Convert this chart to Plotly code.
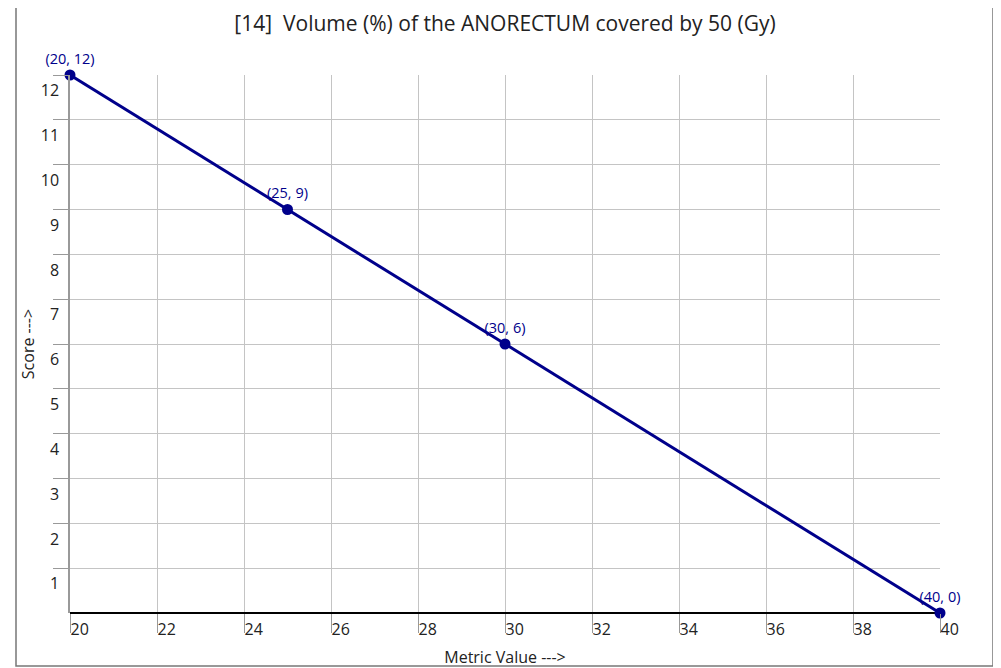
import plotly.graph_objects as go

x_vals = [20, 25, 30, 40]
y_vals = [12, 9, 6, 0]
point_labels = [f"({x}, {y})" for x, y in zip(x_vals, y_vals)]
x_ticks = [20, 22, 24, 26, 28, 30, 32, 34, 36, 38, 40]
y_ticks = [1, 2, 3, 4, 5, 6, 7, 8, 9, 10, 11, 12]
title_text = "[14]  Volume (%) of the ANORECTUM covered by 50 (Gy)"

FONT = "Open Sans, Noto Sans, sans-serif"
NAVY = "#00008B"

fig = go.Figure()
fig.add_trace(go.Scatter(
    x=x_vals, y=y_vals, mode="lines+markers+text",
    line=dict(color=NAVY, width=3),
    marker=dict(color=NAVY, size=11),
    text=point_labels, textposition="top center",
    textfont=dict(color=NAVY, size=14.5, family=FONT),
    cliponaxis=False, showlegend=False,
))

OFF = 8  # page body margin
W, H = 1001 - OFF, 668 - OFF
ml, mt = 70 - OFF, 75 - OFF
mr = W - (940 - OFF)
mb = H - (613 - OFF)
pw, ph = W - ml - mr, H - mt - mb

def px(xs):
    return (xs - OFF - ml) / pw

def py(ys):
    return (H - mb - (ys - OFF)) / ph

fig.update_layout(
    width=W, height=H,
    margin=dict(l=ml, r=mr, t=mt, b=mb, autoexpand=False),
    paper_bgcolor="white", plot_bgcolor="white",
    font=dict(family=FONT, color="#222"),
    title=dict(text=title_text, x=0.5, xref="paper", y=1 - 16 / H, yref="container",
               yanchor="middle", pad=dict(t=0, b=0),
               font=dict(size=21, color="#222", family=FONT)),
    shapes=[dict(type="rect", xref="paper", yref="paper",
                 x0=px(16), x1=px(993), y0=py(666), y1=py(3),
                 line=dict(color="#777", width=1.5), layer="below")],
)
fig.update_xaxes(
    range=[20, 40], tickvals=x_ticks, ticks="outside", ticklen=19,
    tickcolor="#999", tickwidth=1, ticklabelposition="outside right",
    ticklabelstandoff=2, automargin=False,
    tickfont=dict(size=16, color="#222"),
    showgrid=True, gridcolor="#c4c4c4", gridwidth=1,
    zeroline=False, showline=False,
    title=dict(text="Metric Value --->", font=dict(size=16, color="#222"), standoff=12),
)
fig.update_yaxes(
    range=[0, 12], tickvals=y_ticks, ticks="outside", ticklen=15,
    tickcolor="#999", tickwidth=1, ticklabelposition="outside bottom",
    ticklabelstandoff=6, ticklabelshift=4, automargin=False,
    tickfont=dict(size=16, color="#222"),
    showgrid=True, gridcolor="#c4c4c4", gridwidth=1,
    zeroline=True, zerolinecolor="#000", zerolinewidth=2,
    showline=True, linecolor="#999", linewidth=1.5,
    title=dict(text="Score --->", font=dict(size=16, color="#222"), standoff=2),
)
fig.write_html("out.html")
